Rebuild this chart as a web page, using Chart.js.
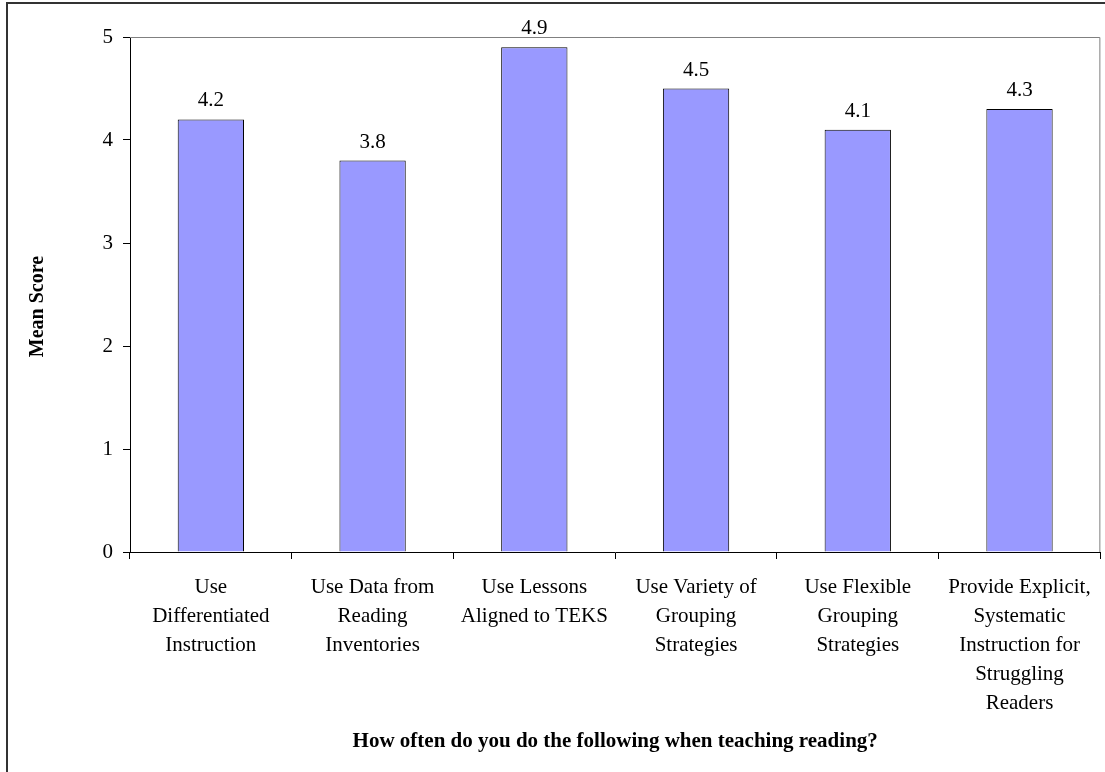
<!DOCTYPE html>
<html>
<head>
<meta charset="utf-8">
<script src="https://cdn.jsdelivr.net/npm/chart.js@4/dist/chart.umd.min.js"></script>
<style>
  body { margin: 0; background: #fff; }
  #wrap { width: 1105px; height: 772px; }
</style>
</head>
<body>
<div id="wrap"><canvas id="chart"></canvas></div>
<script>
// data
var categories = [
    ['Use', 'Differentiated', 'Instruction'],
    ['Use Data from', 'Reading', 'Inventories'],
    ['Use Lessons', 'Aligned to TEKS'],
    ['Use Variety of', 'Grouping', 'Strategies'],
    ['Use Flexible', 'Grouping', 'Strategies'],
    ['Provide Explicit,', 'Systematic', 'Instruction for', 'Struggling', 'Readers']
];
var meanScores = [4.2, 3.8, 4.9, 4.5, 4.1, 4.3];
var yTicks = [0, 1, 2, 3, 4, 5];
var yTitle = 'Mean Score';

var serif = '"Liberation Serif", "Times New Roman", serif';

// frame around the chart + grey plot area border (top/right) + value labels
var framePlugin = {
    id: 'frame',
    beforeDraw: function (chart) {
        var c = chart.ctx;
        c.save();
        c.fillStyle = '#fff';
        c.fillRect(0, 0, chart.width, chart.height);
        c.strokeStyle = '#333';
        c.lineWidth = 2;
        c.beginPath();
        c.moveTo(7, chart.height);
        c.lineTo(7, 3);
        c.lineTo(chart.width, 3);
        c.stroke();
        c.restore();
    },
    afterDatasetsDraw: function (chart) {
        var a = chart.chartArea, c = chart.ctx;
        c.save();
        c.strokeStyle = '#808080';
        c.lineWidth = 1;
        c.beginPath();
        c.moveTo(a.left, a.top + 0.5);
        c.lineTo(a.right - 0.5, a.top + 0.5);
        c.lineTo(a.right - 0.5, a.bottom);
        c.stroke();
        c.fillStyle = '#000';
        c.font = '21px ' + serif;
        c.textAlign = 'center';
        c.textBaseline = 'alphabetic';
        chart.getDatasetMeta(0).data.forEach(function (bar, i) {
            c.fillText(meanScores[i].toFixed(1), bar.x, bar.y - 13);
        });
        // y axis title sits a bit below the plot centre in the original
        c.font = 'bold 20px ' + serif;
        c.textBaseline = 'middle';
        c.translate(38, (a.top + a.bottom) / 2 + 12);
        c.rotate(-Math.PI / 2);
        c.fillText(yTitle, 0, 0);
        c.restore();
    }
};

new Chart(document.getElementById('chart'), {
    type: 'bar',
    data: {
        labels: categories,
        datasets: [{
            label: yTitle,
            data: meanScores,
            backgroundColor: '#9999FF',
            borderColor: '#000',
            borderWidth: 1,
            categoryPercentage: 1,
            barPercentage: 0.41
        }]
    },
    options: {
        responsive: true,
        maintainAspectRatio: false,
        animation: false,
        layout: { padding: { left: 0, right: 4, top: 37, bottom: 0 } },
        plugins: {
            legend: { display: false },
            tooltip: { enabled: false }
        },
        scales: {
            x: {
                grid: { drawOnChartArea: false, color: '#000', tickLength: 7, offset: true },
                border: { color: '#000', width: 1 },
                ticks: {
                    color: '#000',
                    font: { family: serif, size: 21, lineHeight: 1.38 },
                    maxRotation: 0,
                    autoSkip: false,
                    padding: 14
                },
                title: {
                    display: true,
                    text: 'How often do you do the following when teaching reading?',
                    color: '#000',
                    font: { family: serif, size: 21, weight: 'bold' },
                    padding: { top: 0, bottom: 18 }
                },
                afterFit: function (scale) { scale.height = 772 - 552; }
            },
            y: {
                min: 0,
                max: 5,
                afterBuildTicks: function (scale) {
                    scale.ticks = yTicks.map(function (v) { return { value: v }; });
                },
                grid: { drawOnChartArea: false, color: '#000', tickLength: 7 },
                border: { color: '#000', width: 1 },
                ticks: {
                    color: '#000',
                    font: { family: serif, size: 21 },
                    padding: 10
                },
                afterFit: function (scale) { scale.width = 130; }
            }
        }
    },
    plugins: [framePlugin]
});
</script>
</body>
</html>
